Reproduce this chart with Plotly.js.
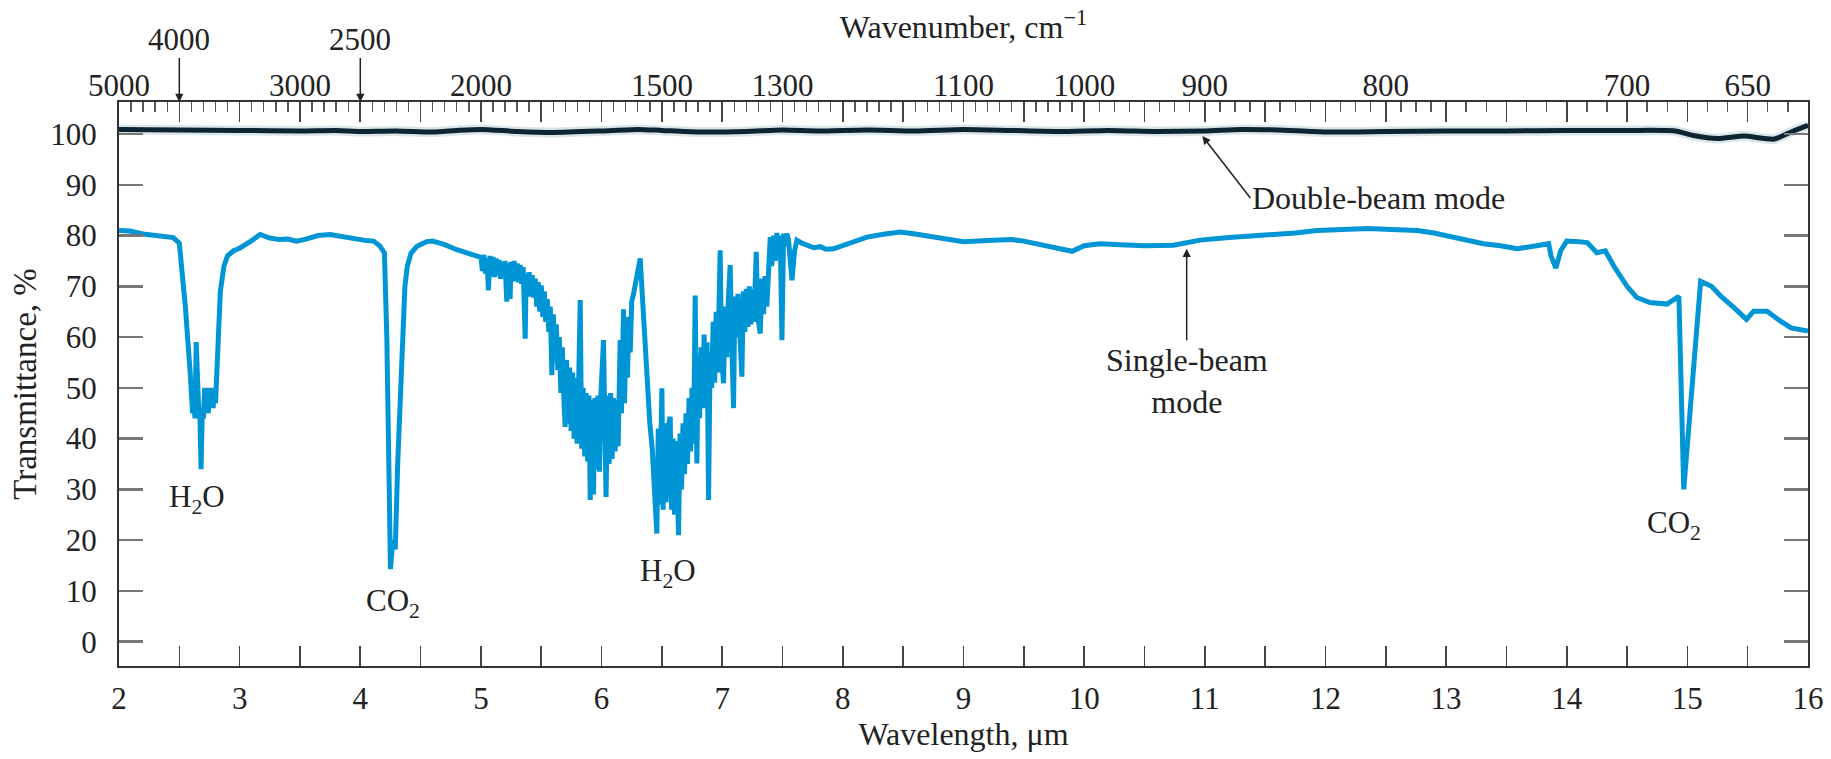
<!DOCTYPE html>
<html>
<head>
<meta charset="utf-8">
<script src="https://cdn.plot.ly/plotly-3.0.1.min.js"></script>
<style>
html,body{margin:0;padding:0;background:#ffffff;}
#chart{width:1831px;height:759px;}
</style>
</head>
<body>
<div id="chart"></div>
<script>
// ---------------- DATA ----------------
// Single-beam spectrum: wavelength (µm)
const singleWavelength = [
  2.00,2.09,2.20,2.30,2.45,2.50,2.55,2.59,2.61,2.62,2.63,2.64,2.65,2.66,2.67,2.68,2.69,2.70,2.71,2.72,
  2.73,2.74,2.75,2.76,2.77,2.78,2.79,2.80,2.82,2.84,2.87,2.90,2.95,3.00,3.10,3.17,3.25,3.33,3.40,3.47,
  3.55,3.65,3.75,3.85,3.95,4.05,4.11,4.16,4.20,4.22,4.24,4.25,4.27,4.29,4.31,4.34,4.37,4.39,4.42,4.47,
  4.55,4.60,4.70,4.80,4.90,4.99,
  5.0000,5.0125,5.0250,5.0375,5.0500,5.0620,5.0750,5.0875,5.1000,5.1125,5.1250,5.1375,5.1500,5.1625,5.1750,5.1875,
  5.2000,5.2140,5.2250,5.2420,5.2500,5.2625,5.2750,5.2875,5.3000,5.3125,5.3250,5.3375,5.3500,5.3670,5.3750,5.3875,
  5.4000,5.4125,5.4250,5.4375,5.4500,5.4625,5.4750,5.4875,5.5000,5.5125,5.5250,5.5375,5.5500,5.5625,5.5750,5.5880,
  5.6000,5.6125,5.6250,5.6375,5.6500,5.6625,5.6750,5.6880,5.6980,5.7100,5.7225,5.7350,5.7475,5.7600,5.7725,5.7850,
  5.7975,5.8100,5.8230,5.8350,5.8475,5.8600,5.8725,5.8850,5.8960,5.9060,5.9175,5.9330,5.9450,5.9575,5.9700,5.9825,
  5.9950,6.0160,6.0250,6.0370,6.0500,6.0625,6.0750,6.0875,6.1000,6.1125,6.1250,6.1375,6.1540,6.1650,6.1820,6.1900,
  6.2025,6.2150,6.2250,6.2375,6.2500,6.2650,6.3200,6.3500,6.3750,6.4000,6.4200,6.4375,6.4580,6.4700,6.4825,6.5000,
  6.5100,6.5225,6.5350,6.5475,6.5690,6.5800,6.5925,6.6050,6.6175,6.6380,6.6500,6.6625,6.6750,6.6875,6.7000,6.7125,
  6.7250,6.7375,6.7500,6.7625,6.7760,6.7900,6.8000,6.8125,6.8250,6.8375,6.8500,6.8625,6.8750,6.8870,6.9000,6.9125,
  6.9250,6.9375,6.9500,6.9625,6.9830,6.9950,7.0110,7.0250,7.0375,7.0500,7.0660,7.0800,7.0940,7.1050,7.1175,7.1300,
  7.1450,7.1630,7.1750,7.1875,7.2000,7.2125,7.2250,7.2375,7.2500,7.2625,7.2820,7.2950,7.3150,7.3300,7.3425,7.3550,
  7.3700,7.3850,7.3980,7.4100,7.4260,7.4400,7.4530,7.4700,7.4810,7.4950,7.5090,7.5220,7.5360,7.5500,7.5780,7.6000,
  7.6190,
  7.66,7.702,7.76,7.813,7.86,7.923,8.00,8.10,8.20,8.35,8.476,8.60,8.80,9.00,9.20,9.40,9.50,9.65,9.80,9.90,
  10.00,10.13,10.30,10.50,10.74,10.96,11.20,11.52,11.75,11.93,12.15,12.35,12.55,12.76,12.90,13.04,13.20,13.31,13.45,13.59,
  13.75,13.85,13.87,13.91,13.95,14.00,14.10,14.17,14.25,14.32,14.39,14.45,14.50,14.58,14.69,14.83,14.93,14.97,15.04,15.11,
  15.20,15.28,15.40,15.49,15.55,15.66,15.75,15.86,16.00
];
// Single-beam spectrum: transmittance (%)
const singleTransmittance = [
  81.0,80.9,80.3,80.0,79.6,78.5,66,53,45,47,44,59,50,46,45,34,45,44,50,45,
  50,45,50,46,50,46,49,47,58,69,74,76,77,77.5,79,80.2,79.5,79.2,79.3,78.9,
  79.3,80,80.2,79.8,79.2,79.0,78.9,78,76.6,60,30,14.3,20,18.2,35,55,70,74,76.5,77.9,
  78.8,78.9,78.2,77.2,76.4,75.7,
  75.7,73.0,76.2,72.5,75.5,69.2,76.0,72.0,75.8,71.8,75.5,72.2,75.2,71.5,74.8,72.0,
  75.0,67.0,74.5,67.5,74.8,71.2,75.0,71.0,74.5,70.8,74.2,70.5,73.8,59.7,72.5,68.5,
  72.8,68.0,72.2,67.8,71.5,66.0,70.8,65.0,70.2,64.0,69.0,63.0,67.5,61.0,66.0,52.5,
  64.5,55.0,62.5,53.5,60.0,49.0,58.0,47.5,42.3,55.5,43.0,54.0,41.5,53.0,40.0,52.0,
  39.0,51.0,67.3,38.0,50.0,36.5,49.0,35.5,48.5,27.9,47.5,29.0,48.0,34.0,48.5,33.5,
  49.0,59.4,34.5,28.5,48.5,35.0,49.0,36.0,48.0,37.5,47.5,38.5,59.4,45.0,65.5,47.0,
  60.0,52.0,64.0,57.0,67.0,68.5,75.5,62.0,50.0,43.0,38.0,30.0,21.3,42.0,27.0,49.9,
  26.0,43.0,27.5,42.0,44.3,26.0,40.0,25.0,39.5,21.0,41.0,30.0,43.0,33.0,45.0,35.0,
  48.0,37.5,50.0,39.0,68.2,35.1,54.0,44.0,58.0,46.0,60.5,48.0,59.0,27.9,57.0,50.0,
  63.0,51.0,65.0,53.0,77.1,56.0,50.9,66.0,56.0,67.0,74.2,58.0,46.0,68.0,60.0,68.5,
  61.0,52.2,69.0,61.0,69.5,62.0,70.0,62.5,69.5,63.0,76.8,64.0,60.7,71.5,64.5,72.0,
  66.0,77.0,79.7,74.0,80.0,75.0,80.5,76.0,80.0,59.4,80.4,78.0,80.4,79.0,71.2,77.0,
  79.1,
  78.5,78.2,77.6,77.8,77.3,77.4,78,79,79.7,80.3,80.7,80.3,79.5,78.8,79,79.2,78.9,78.2,77.4,76.9,
  78.0,78.4,78.2,78.0,78.1,79.1,79.6,80.1,80.5,81.0,81.1,81.4,81.2,81.0,80.5,79.7,78.9,78.4,78.0,77.4,
  78.0,78.4,76,73.6,77,78.9,78.8,78.6,76.6,77,74,72,70,67.8,66.8,66.5,68,30,50,71,
  70,68,65.5,63.5,65.1,65.1,63.5,61.8,61.2
];

// Double-beam spectrum: wavelength (µm) and transmittance (%)
const doubleWavelength = [
  2.0,2.5,3.0,3.5,3.8,4.0,4.3,4.6,4.8,5.0,5.3,5.6,6.0,6.3,6.5,6.8,7.2,7.5,7.8,8.2,
  8.6,9.0,9.4,9.8,10.2,10.6,11.0,11.3,11.6,12.0,12.5,13.0,13.5,14.0,14.5,14.9,15.05,15.25,15.47,15.72,
  15.86,16.0
];
const doubleTransmittance = [
  100.9,100.8,100.7,100.6,100.7,100.5,100.6,100.4,100.7,100.9,100.5,100.3,100.6,100.9,100.7,100.4,100.5,100.8,100.6,100.8,
  100.6,100.9,100.7,100.5,100.7,100.5,100.6,100.9,100.8,100.4,100.5,100.6,100.6,100.7,100.7,100.6,99.7,99.1,99.6,99.0,
  100.4,101.7
];

// Bottom axis (wavelength) tick labels
const wavelengthTicks = [2,3,4,5,6,7,8,9,10,11,12,13,14,15,16];
// Left axis (transmittance) tick labels
const transmittanceTicks = [0,10,20,30,40,50,60,70,80,90,100];
// Top axis (wavenumber) labels, placed at the wavelength where the reference prints them
const wavenumberLabelPos  = [2.0, 3.5, 5.0, 6.5, 7.5, 9.0, 10.0, 11.0, 12.5, 14.5, 15.5];
const wavenumberLabelText = ['5000','3000','2000','1500','1300','1100','1000','900','800','700','650'];
// Raised wavenumber labels with arrows
const wavenumberArrowPos  = [2.5, 4.0];
const wavenumberArrowText = ['4000','2500'];
// Peak labels
const peakLabelText = ['H<sub>2</sub>O','CO<sub>2</sub>','H<sub>2</sub>O','CO<sub>2</sub>'];

// ---------------- short ruler ticks of the top axis ----------------
const topShortTicks = [];
for (let a = 2; a < 15.999; a += 0.5) {
  const n = a < 10 ? 5 : (a < 13 ? 4 : 3);
  for (let k = 1; k < n; k++) topShortTicks.push(a + k * 0.5 / n);
}

const FONT = 'Liberation Serif, Times New Roman, serif';
const TXT = '#222222';

// ---------------- traces ----------------
const traces = [
  { x: doubleWavelength, y: doubleTransmittance, xaxis: 'x2', yaxis: 'y', mode: 'lines',
    line: { color: 'rgba(30,100,130,0.16)', width: 10, shape: 'spline', smoothing: 0.6 },
    hoverinfo: 'skip', showlegend: false },
  { x: doubleWavelength, y: doubleTransmittance, mode: 'lines', name: 'Double-beam mode',
    line: { color: '#0a1a22', width: 5, shape: 'spline', smoothing: 0.6 }, showlegend: false },
  { x: singleWavelength, y: singleTransmittance, mode: 'lines', name: 'Single-beam mode',
    line: { color: '#0096d6', width: 5 }, showlegend: false }
];

// ---------------- annotations ----------------
const annotations = [];
wavenumberArrowPos.forEach((p, i) => {
  annotations.push({ x: p, y: 1, xref: 'x', yref: 'paper', text: wavenumberArrowText[i],
    showarrow: true, ax: 0, ay: -63, arrowhead: 2, arrowsize: 1.1, arrowwidth: 1.5, arrowcolor: '#222',
    font: { family: FONT, size: 31, color: TXT } });
});
const peakPos = [[2.65, 28.2], [4.275, 7.6], [6.55, 13.6], [14.89, 23.0]];
peakLabelText.forEach((t, i) => {
  annotations.push({ x: peakPos[i][0], y: peakPos[i][1], xref: 'x', yref: 'y', text: t,
    showarrow: false, xanchor: 'center', yanchor: 'middle',
    font: { family: FONT, size: 31, color: TXT } });
});
// Double-beam label with its arrow (text box hangs to the right of the arrow tail)
annotations.push({ x: 10.98, y: 99.6, xref: 'x', yref: 'y', text: 'Double-beam mode',
  showarrow: true, ax: 48, ay: 62, xanchor: 'left', yanchor: 'middle',
  arrowhead: 2, arrowsize: 1.1, arrowwidth: 1.5, arrowcolor: '#222',
  font: { family: FONT, size: 32, color: TXT } });
// Single-beam label and arrow
annotations.push({ x: 10.85, y: 77.4, xref: 'x', yref: 'y', text: 'Single-beam<br>mode',
  showarrow: true, ax: 0, ay: 132, arrowhead: 2, arrowsize: 1.1, arrowwidth: 1.5, arrowcolor: '#222',
  align: 'center', font: { family: FONT, size: 32, color: TXT } });

// ---------------- layout ----------------
const layout = {
  width: 1831, height: 759,
  paper_bgcolor: '#ffffff', plot_bgcolor: '#ffffff',
  margin: { l: 119, r: 23, t: 102, b: 93 },
  font: { family: FONT, size: 31, color: TXT },
  showlegend: false,
  xaxis: {
    range: [2, 16], tickmode: 'array', tickvals: wavelengthTicks,
    ticks: 'inside', ticklen: 20, tickwidth: 1.6, tickcolor: '#444',
    minor: { dtick: 0.5, tick0: 2, ticks: 'inside', ticklen: 20, tickwidth: 1.6, tickcolor: '#444' },
    showline: true, linecolor: '#333', linewidth: 2, mirror: 'allticks',
    showgrid: false, zeroline: false, ticklabelstandoff: 4,
    tickfont: { family: FONT, size: 31, color: TXT },
    title: { text: 'Wavelength, μm', font: { family: FONT, size: 32, color: TXT }, standoff: 6 }
  },
  xaxis2: {
    range: [2, 16], overlaying: 'x', side: 'top', anchor: 'y',
    tickmode: 'array', tickvals: wavenumberLabelPos, ticktext: wavenumberLabelText,
    ticks: 'inside', ticklen: 20, tickwidth: 1.6, tickcolor: '#444',
    minor: { tickmode: 'array', tickvals: topShortTicks, ticks: 'inside', ticklen: 10, tickwidth: 1.4, tickcolor: '#555' },
    showline: true, linecolor: '#333', linewidth: 2,
    showgrid: false, zeroline: false, ticklabelstandoff: -8,
    tickfont: { family: FONT, size: 31, color: TXT },
    title: { text: 'Wavenumber, cm<sup>−1</sup>', font: { family: FONT, size: 32, color: TXT }, standoff: 19 }
  },
  yaxis: {
    range: [-4.78, 106.3], tickmode: 'array', tickvals: transmittanceTicks,
    ticks: 'inside', ticklen: 24, tickwidth: 2.5, tickcolor: '#777',
    showline: true, linecolor: '#333', linewidth: 2, mirror: 'ticks',
    showgrid: false, zeroline: false, ticklabelstandoff: 14,
    tickfont: { family: FONT, size: 31, color: TXT },
    title: { text: 'Transmittance, %', font: { family: FONT, size: 33, color: TXT }, standoff: 4 }
  },
  annotations: annotations
};

Plotly.newPlot('chart', traces, layout, { displayModeBar: false, staticPlot: true });
</script>
</body>
</html>
